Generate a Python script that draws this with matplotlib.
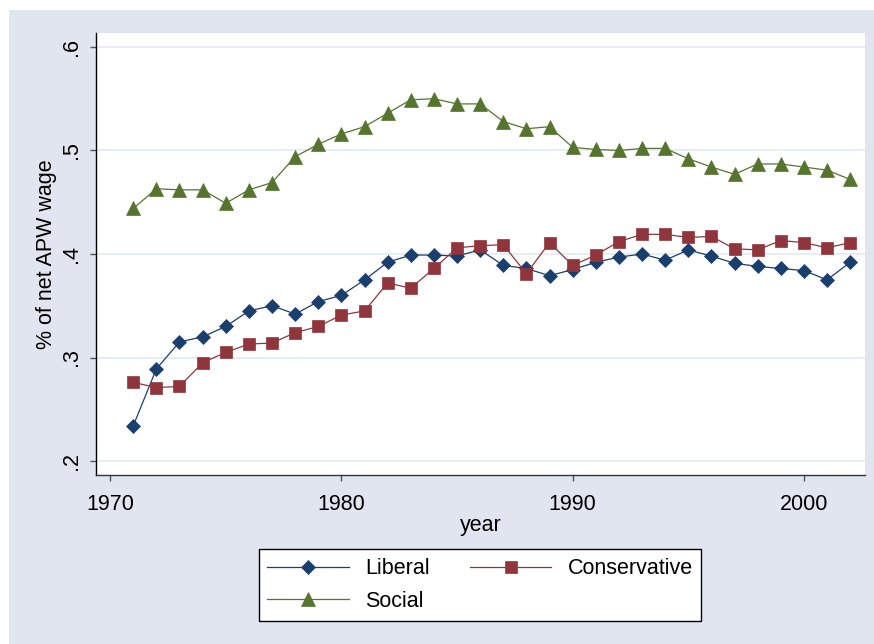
import matplotlib
matplotlib.use("Agg")
import matplotlib.pyplot as plt
from matplotlib.patches import Rectangle

plt.rcParams["font.family"] = ["Liberation Sans", "DejaVu Sans"]

years = list(range(1971, 2003))

liberal = [0.234, 0.289, 0.315, 0.320, 0.330, 0.345, 0.350, 0.342, 0.354, 0.360,
           0.375, 0.392, 0.399, 0.399, 0.398, 0.404, 0.389, 0.386, 0.379, 0.385,
           0.392, 0.397, 0.400, 0.394, 0.404, 0.398, 0.391, 0.388, 0.386, 0.384,
           0.375, 0.392]

conservative = [0.276, 0.271, 0.272, 0.295, 0.305, 0.313, 0.314, 0.324, 0.330, 0.341,
                0.345, 0.372, 0.367, 0.386, 0.406, 0.408, 0.409, 0.381, 0.411, 0.389,
                0.399, 0.412, 0.419, 0.419, 0.416, 0.417, 0.405, 0.404, 0.413, 0.411,
                0.406, 0.411]

social = [0.444, 0.463, 0.462, 0.462, 0.449, 0.462, 0.469, 0.494, 0.506, 0.516,
          0.523, 0.536, 0.549, 0.550, 0.545, 0.545, 0.528, 0.521, 0.523, 0.503,
          0.501, 0.500, 0.502, 0.502, 0.492, 0.484, 0.477, 0.487, 0.487, 0.484,
          0.481, 0.472]

x_ticks = [1970, 1980, 1990, 2000]
y_ticks = [0.2, 0.3, 0.4, 0.5, 0.6]
y_tick_labels = [".2", ".3", ".4", ".5", ".6"]

NAVY = "#1a3f6e"
MAROON = "#90353b"
GREEN = "#55752f"
BG = "#e1e5ef"
FS = 15.5

W, H = 874, 644
fig = plt.figure(figsize=(W / 100, H / 100), dpi=100)
fig.patch.set_facecolor("white")
fig.patches.append(Rectangle((9 / W, 0), 1 - 9 / W, (H - 10) / H,
                             transform=fig.transFigure, facecolor=BG,
                             edgecolor="none", zorder=-10))

ax = fig.add_axes([96 / W, (H - 475) / H, (865 - 96) / W, (475 - 33) / H])
ax.set_facecolor("white")

series = [
    ("Liberal", liberal, NAVY, "D", 7.6),
    ("Conservative", conservative, MAROON, "s", 8.2),
    ("Social", social, GREEN, "^", 9.6),
]
handles = {}
for name, vals, color, marker, ms in series:
    (line,) = ax.plot(years, vals, color=color, linewidth=0.9, marker=marker,
                      markersize=ms, markerfacecolor=color, markeredgecolor=color,
                      markeredgewidth=0.5, label=name, zorder=3)
    handles[name] = line

ax.set_xlim(1969.39, 2002.64)
ax.set_ylim(0.1865, 0.6135)
ax.set_xticks(x_ticks)
ax.set_yticks(y_ticks)
ax.set_yticklabels(y_tick_labels, rotation=90, va="center")

ax.grid(axis="y", color="#e6eaf2", linewidth=1.3, zorder=0)
ax.grid(axis="x", visible=False)

for side in ("top", "right"):
    ax.spines[side].set_visible(False)
ax.spines["left"].set_color("black")
ax.spines["bottom"].set_color("#333333")
ax.spines["left"].set_linewidth(1.0)
ax.spines["bottom"].set_linewidth(1.0)

ax.tick_params(axis="both", direction="out", length=4, width=1.0,
               color="#555555", labelsize=FS, labelcolor="black")
ax.tick_params(axis="x", pad=10)
ax.tick_params(axis="y", pad=6)

ax.set_xlabel("year", fontsize=FS, labelpad=0)
ax.set_ylabel("% of net APW wage", fontsize=FS, labelpad=3)

# legend fills column by column, so order handles to get Liberal/Conservative on row one
order = ["Liberal", "Social", "Conservative"]
leg = fig.legend([handles[n] for n in order], order,
                 loc="center", bbox_to_anchor=(480 / W, (H - 585) / H),
                 ncol=2, fontsize=FS, frameon=True, fancybox=False,
                 edgecolor="black", facecolor="white", framealpha=1.0,
                 handlelength=3.8, columnspacing=1.85, handletextpad=0.75,
                 labelspacing=0.55, borderpad=0.4)
leg.get_frame().set_linewidth(1.0)

fig.savefig("out.png", dpi=100, facecolor=fig.get_facecolor())
